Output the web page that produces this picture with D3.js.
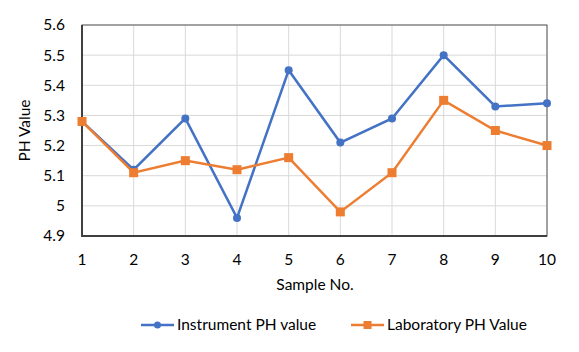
<!DOCTYPE html>
<html>
<head>
<meta charset="utf-8">
<script src="https://cdn.jsdelivr.net/npm/d3@7"></script>
<style>
  body { margin: 0; background: #fff; }
  text { font-family: Lato, "Open Sans", sans-serif; fill: #000; }
</style>
</head>
<body>
<div id="container"></div>
<script>
const samples = [1, 2, 3, 4, 5, 6, 7, 8, 9, 10]
const instrumentPH = [5.28, 5.12, 5.29, 4.96, 5.45, 5.21, 5.29, 5.50, 5.33, 5.34]
const laboratoryPH = [5.28, 5.11, 5.15, 5.12, 5.16, 4.98, 5.11, 5.35, 5.25, 5.20]
const yTicks = [4.9, 5, 5.1, 5.2, 5.3, 5.4, 5.5, 5.6]
const seriesNames = ["Instrument PH value", "Laboratory PH Value"]

const width = 579
const height = 352
const margin = { left: 82, top: 25, right: 32, bottom: 116 }
const blue = "#4472C4"
const orange = "#ED7D31"
const fontSize = 15.5

const svg = d3.select("#container").append("svg")
    .attr("width", width).attr("height", height)

const x = d3.scaleLinear().domain([1, 10]).range([margin.left, width - margin.right])
const y = d3.scaleLinear().domain([4.9, 5.6]).range([height - margin.bottom, margin.top])

// gridlines
svg.append("g").selectAll("line.h").data(yTicks).join("line")
    .attr("x1", x(1)).attr("x2", x(10))
    .attr("y1", d => y(d)).attr("y2", d => y(d))
    .attr("stroke", "#d9d9d9").attr("stroke-width", 1)
svg.append("g").selectAll("line.v").data(samples).join("line")
    .attr("x1", d => x(d)).attr("x2", d => x(d))
    .attr("y1", y(5.6)).attr("y2", y(4.9))
    .attr("stroke", "#d9d9d9").attr("stroke-width", 1)

// frame
svg.append("rect")
    .attr("x", x(1)).attr("y", y(5.6))
    .attr("width", x(10) - x(1)).attr("height", y(4.9) - y(5.6))
    .attr("fill", "none").attr("stroke", "#595959").attr("stroke-width", 1)
svg.append("path")
    .attr("d", `M${x(1)},${y(5.6)}V${y(4.9)}H${x(10)}`)
    .attr("fill", "none").attr("stroke", "#404040").attr("stroke-width", 2)

// tick labels
svg.append("g").selectAll("text").data(yTicks).join("text")
    .attr("x", 65).attr("y", d => y(d)).attr("dy", "0.35em")
    .attr("text-anchor", "end").attr("font-size", fontSize)
    .text(d => d3.format("~g")(d))
svg.append("g").selectAll("text").data(samples).join("text")
    .attr("x", d => x(d)).attr("y", 260).attr("dy", "0.35em")
    .attr("text-anchor", "middle").attr("font-size", fontSize)
    .text(d => d)

// axis titles
svg.append("text")
    .attr("transform", `translate(25,${(y(5.6) + y(4.9)) / 2}) rotate(-90)`)
    .attr("text-anchor", "middle").attr("dy", "0.35em").attr("font-size", fontSize)
    .text("PH Value")
svg.append("text")
    .attr("x", 315).attr("y", 285).attr("dy", "0.35em")
    .attr("text-anchor", "middle").attr("font-size", fontSize)
    .text("Sample No.")

const line = d3.line().x((d, i) => x(samples[i])).y(d => y(d))

// series
svg.append("path").datum(instrumentPH).attr("d", line)
    .attr("fill", "none").attr("stroke", blue).attr("stroke-width", 2.5)
svg.append("g").selectAll("circle").data(instrumentPH).join("circle")
    .attr("cx", (d, i) => x(samples[i])).attr("cy", d => y(d)).attr("r", 4)
    .attr("fill", blue)

svg.append("path").datum(laboratoryPH).attr("d", line)
    .attr("fill", "none").attr("stroke", orange).attr("stroke-width", 2.5)
svg.append("g").selectAll("rect").data(laboratoryPH).join("rect")
    .attr("x", (d, i) => x(samples[i]) - 4.5).attr("y", d => y(d) - 4.5)
    .attr("width", 9).attr("height", 9)
    .attr("fill", orange)

// legend
const legend = svg.append("g")
const items = [
    { name: seriesNames[0], color: blue, x0: 141, shape: "circle" },
    { name: seriesNames[1], color: orange, x0: 351, shape: "square" }
]
items.forEach(it => {
    const ly = 325
    legend.append("line")
        .attr("x1", it.x0).attr("x2", it.x0 + 33)
        .attr("y1", ly).attr("y2", ly)
        .attr("stroke", it.color).attr("stroke-width", 2.5)
    if (it.shape === "circle") {
        legend.append("circle").attr("cx", it.x0 + 16.5).attr("cy", ly).attr("r", 3.5).attr("fill", it.color)
    } else {
        legend.append("rect").attr("x", it.x0 + 12.5).attr("y", ly - 4).attr("width", 8).attr("height", 8).attr("fill", it.color)
    }
    legend.append("text")
        .attr("x", it.x0 + 36).attr("y", ly).attr("dy", "0.35em")
        .attr("font-size", fontSize)
        .text(it.name)
})
</script>
</body>
</html>
